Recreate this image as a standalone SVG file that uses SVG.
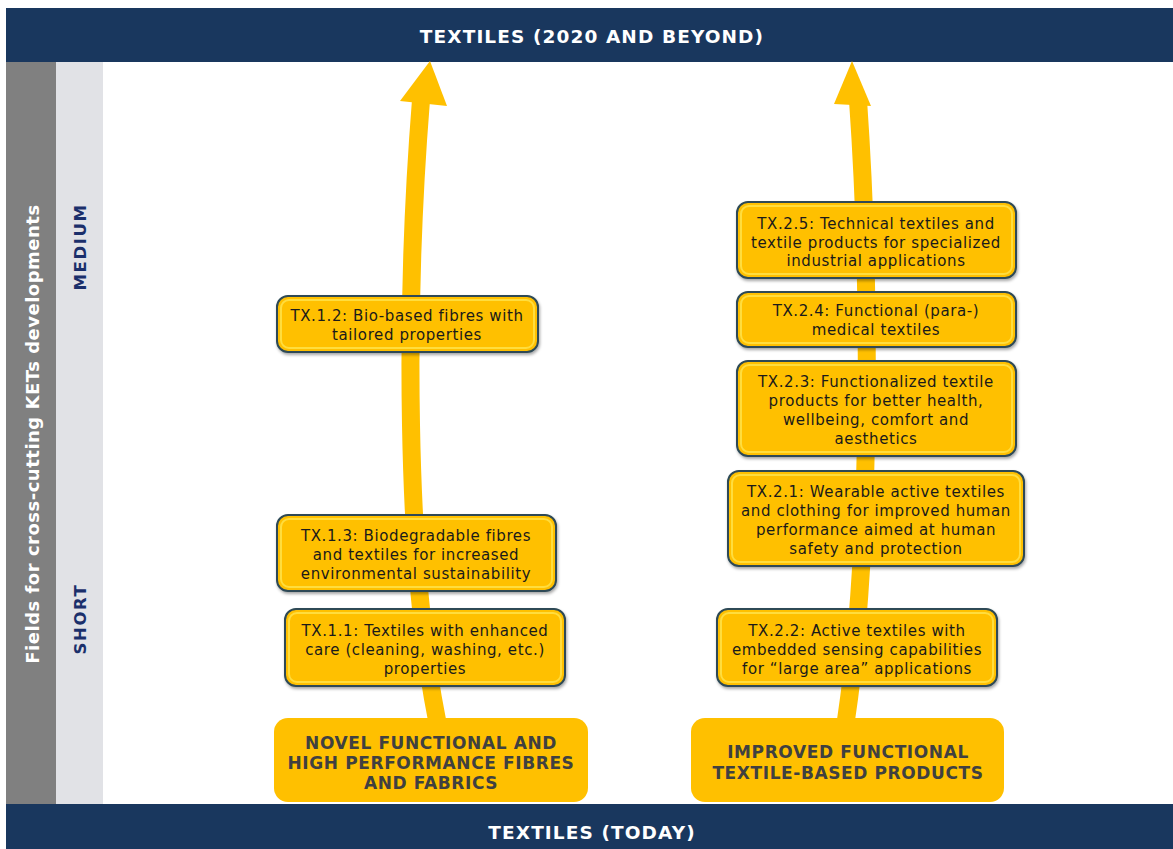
<svg xmlns="http://www.w3.org/2000/svg" width="1173" height="849" viewBox="0 0 1173 849">
  <style>
    .band { fill: #19375e; }
    .bandtxt { fill: #ffffff; font-family: "DejaVu Sans", Verdana, sans-serif; font-weight: bold; font-size: 18.5px; letter-spacing: 1.1px; text-anchor: middle; }
    .side { fill: #ffffff; font-family: "DejaVu Sans", Verdana, sans-serif; font-weight: bold; font-size: 18px; letter-spacing: 0.5px; text-anchor: middle; }
    .term { fill: #1b2f6b; font-family: "DejaVu Sans", Verdana, sans-serif; font-weight: bold; font-size: 16.5px; letter-spacing: 1.6px; text-anchor: middle; }
    .box { fill: #ffc000; stroke: #2d4a56; stroke-width: 2; filter: url(#shadow); }
    .boxhi { fill: none; stroke: #ffe34d; stroke-width: 2; opacity: 0.8; }
    .base { fill: #ffc000; }
    .txt { fill: #1a1a1a; font-family: "DejaVu Sans", Verdana, sans-serif; font-size: 15px; letter-spacing: 0.6px; text-anchor: middle; }
    .basetxt { fill: #404040; font-family: "DejaVu Sans", Verdana, sans-serif; font-weight: bold; font-size: 17px; letter-spacing: 0.6px; text-anchor: middle; }
    .shaft { fill: none; stroke: #ffc000; stroke-width: 18; }
    .head { fill: #ffc000; }
  </style>
  <defs>
    <filter id="shadow" x="-10%" y="-20%" width="120%" height="150%">
      <feDropShadow dx="1" dy="2" stdDeviation="1.5" flood-color="#000000" flood-opacity="0.35"/>
    </filter>
  </defs>

  <rect width="1173" height="849" fill="#ffffff"/>

  <!-- frame bands -->
  <rect class="band" x="6" y="8" width="1167" height="54"/>
  <text class="bandtxt" x="592" y="43">TEXTILES (2020 AND BEYOND)</text>
  <rect x="6" y="62" width="50" height="742" fill="#808080"/>
  <rect x="56" y="62" width="47" height="742" fill="#e1e2e6"/>
  <rect class="band" x="6" y="804" width="1167" height="45"/>
  <text class="bandtxt" x="592" y="839">TEXTILES (TODAY)</text>

  <text class="side" transform="translate(39,434) rotate(-90)">Fields for cross-cutting KETs developments</text>
  <text class="term" transform="translate(86,247) rotate(-90)">MEDIUM</text>
  <text class="term" transform="translate(86,619) rotate(-90)">SHORT</text>

  <!-- connectors: two roadmap arrows -->
  <g id="connectors">
    <path class="shaft" d="M437,720 C405,560 405,300 421,100"/>
    <polygon class="head" points="430,61 400,101 447,106"/>
    <path class="shaft" d="M846,720 C870,560 872,300 858,100"/>
    <polygon class="head" points="852,61 834,104 871,106"/>
  </g>

  <!-- left track -->
  <g id="base-novel">
    <rect class="base" x="274" y="718" width="314" height="84" rx="14"/>
    <text class="basetxt" x="431" y="749">NOVEL FUNCTIONAL AND</text>
    <text class="basetxt" x="431" y="769">HIGH PERFORMANCE  FIBRES</text>
    <text class="basetxt" x="431" y="789">AND FABRICS</text>
  </g>
  <g id="tx-1-1">
    <rect class="box" x="285" y="609" width="280" height="77" rx="11"/>
    <rect class="boxhi" x="289" y="613" width="272" height="69" rx="8"/>
    <text class="txt" x="425" y="636">TX.1.1: Textiles with enhanced</text>
    <text class="txt" x="425" y="655">care (cleaning, washing, etc.)</text>
    <text class="txt" x="425" y="674">properties</text>
  </g>
  <g id="tx-1-3">
    <rect class="box" x="277" y="515" width="279" height="76" rx="11"/>
    <rect class="boxhi" x="281" y="519" width="271" height="68" rx="8"/>
    <text class="txt" x="416" y="541">TX.1.3: Biodegradable fibres</text>
    <text class="txt" x="416" y="560">and textiles for increased</text>
    <text class="txt" x="416" y="579">environmental sustainability</text>
  </g>
  <g id="tx-1-2">
    <rect class="box" x="277" y="296" width="261" height="56" rx="11"/>
    <rect class="boxhi" x="281" y="300" width="253" height="48" rx="8"/>
    <text class="txt" x="407" y="321">TX.1.2: Bio-based fibres with</text>
    <text class="txt" x="407" y="340">tailored properties</text>
  </g>

  <!-- right track -->
  <g id="base-improved">
    <rect class="base" x="691" y="718" width="313" height="84" rx="14"/>
    <text class="basetxt" x="848" y="758">IMPROVED FUNCTIONAL</text>
    <text class="basetxt" x="848" y="779">TEXTILE-BASED PRODUCTS</text>
  </g>
  <g id="tx-2-2">
    <rect class="box" x="717" y="609" width="280" height="77" rx="11"/>
    <rect class="boxhi" x="721" y="613" width="272" height="69" rx="8"/>
    <text class="txt" x="857" y="636">TX.2.2: Active textiles with</text>
    <text class="txt" x="857" y="655">embedded sensing capabilities</text>
    <text class="txt" x="857" y="674">for “large area” applications</text>
  </g>
  <g id="tx-2-1">
    <rect class="box" x="728" y="471" width="296" height="95" rx="11"/>
    <rect class="boxhi" x="732" y="475" width="288" height="87" rx="8"/>
    <text class="txt" x="876" y="497">TX.2.1: Wearable active textiles</text>
    <text class="txt" x="876" y="516">and clothing for improved human</text>
    <text class="txt" x="876" y="535">performance aimed at human</text>
    <text class="txt" x="876" y="554">safety and protection</text>
  </g>
  <g id="tx-2-3">
    <rect class="box" x="737" y="361" width="279" height="95" rx="11"/>
    <rect class="boxhi" x="741" y="365" width="271" height="87" rx="8"/>
    <text class="txt" x="876" y="387">TX.2.3: Functionalized textile</text>
    <text class="txt" x="876" y="406">products for better health,</text>
    <text class="txt" x="876" y="425">wellbeing, comfort and</text>
    <text class="txt" x="876" y="444">aesthetics</text>
  </g>
  <g id="tx-2-4">
    <rect class="box" x="737" y="292" width="279" height="55" rx="11"/>
    <rect class="boxhi" x="741" y="296" width="271" height="47" rx="8"/>
    <text class="txt" x="876" y="316">TX.2.4: Functional (para-)</text>
    <text class="txt" x="876" y="335">medical textiles</text>
  </g>
  <g id="tx-2-5">
    <rect class="box" x="737" y="202" width="279" height="76" rx="11"/>
    <rect class="boxhi" x="741" y="206" width="271" height="68" rx="8"/>
    <text class="txt" x="876" y="229">TX.2.5: Technical textiles and</text>
    <text class="txt" x="876" y="248">textile products for specialized</text>
    <text class="txt" x="876" y="266">industrial applications</text>
  </g>
</svg>
